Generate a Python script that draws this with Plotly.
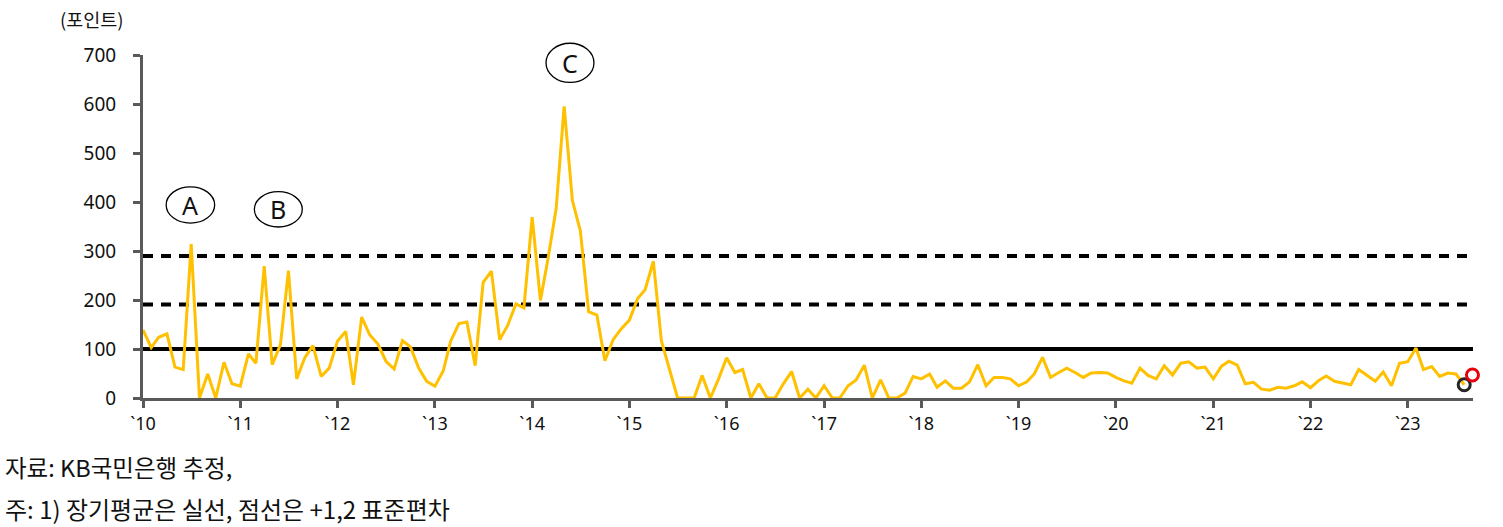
import pandas as pd
import plotly.graph_objects as go

# ---- data (monthly, 2010-01 .. 2023-08) ----
values = [
    139, 103, 124, 131, 63, 58, 314, 0, 49, 0, 73, 29,        # 2010
    24, 90, 71, 269, 68, 109, 260, 39, 83, 107, 44, 61,       # 2011
    116, 136, 27, 165, 129, 110, 75, 59, 117, 104, 61, 34,    # 2012
    24, 55, 116, 152, 155, 66, 236, 259, 119, 148, 192, 184,  # 2013
    369, 199, 283, 386, 595, 403, 341, 176, 169, 76, 119, 141,# 2014
    159, 203, 221, 279, 117, 55, 0, 0, 0, 46, 0, 38,          # 2015
    82, 52, 58, 0, 29, 0, 0, 29, 54, 0, 18, 0,                # 2016
    25, 0, 0, 25, 37, 67, 0, 37, 0, 0, 10, 44,                # 2017
    39, 49, 22, 35, 20, 20, 33, 68, 25, 42, 42, 39,           # 2018
    25, 33, 49, 83, 42, 52, 61, 52, 42, 51, 52, 51,           # 2019
    42, 35, 30, 61, 46, 39, 66, 47, 71, 74, 61, 63,           # 2020
    39, 65, 75, 67, 29, 32, 18, 16, 22, 20, 25, 33,           # 2021
    21, 36, 45, 34, 30, 27, 58, 46, 34, 53, 25, 71,           # 2022
    74, 102, 58, 64, 44, 51, 49, 27,                          # 2023
]
start_month = "2010-01-01"
estimate_month = "2023-09-01"
estimate_value = 47

long_term_mean = 100
plus_1sd = 191
plus_2sd = 290

tick_years = list(range(2010, 2024))
tick_labels = ["`%02d" % (y % 100) for y in tick_years]
y_ticks = [0, 100, 200, 300, 400, 500, 600, 700]
y_max = 700

dates = pd.date_range(start_month, periods=len(values), freq="MS")
x_start = dates[0]
x_end = pd.Timestamp("2023-09-03")

GOLD = "#FFC000"
AXIS = "#595959"
FONT = "Noto Sans CJK KR"
LATIN = "Noto Sans, Noto Sans CJK KR"

fig = go.Figure()

# reference lines
fig.add_trace(go.Scatter(x=[x_start, x_end], y=[long_term_mean] * 2, mode="lines",
                         line=dict(color="black", width=4), hoverinfo="skip"))
for lvl in (plus_1sd, plus_2sd):
    fig.add_trace(go.Scatter(x=[x_start, x_end], y=[lvl] * 2, mode="lines",
                             line=dict(color="black", width=4, dash="10px,8px"),
                             hoverinfo="skip"))

# main series
fig.add_trace(go.Scatter(x=dates, y=values, mode="lines",
                         line=dict(color=GOLD, width=3)))

# last point marker and estimate marker
fig.add_trace(go.Scatter(x=[dates[-1]], y=[values[-1]], mode="markers",
                         marker=dict(symbol="circle-open", size=12, color="#262626",
                                     line=dict(color="#262626", width=3)),
                         cliponaxis=False))
fig.add_trace(go.Scatter(x=[pd.Timestamp(estimate_month)], y=[estimate_value], mode="markers",
                         marker=dict(symbol="circle-open", size=12, color="#E8000B",
                                     line=dict(color="#E8000B", width=3)),
                         cliponaxis=False))

# circled labels A, B, C  (x in dates, y in axis units -> paper)
day = pd.Timedelta(days=1)
circles = [
    ("A", dates[6] - 3 * day, 91, 394, 37),
    ("B", dates[17] - 8 * day, 90, 385, 36),
    ("C", dates[53] - 9 * day, 90, 684, 40),
]
for txt, cx, hw, cy, hh in circles:
    fig.add_shape(type="circle", xref="x", yref="paper",
                  x0=cx - hw * day, x1=cx + hw * day,
                  y0=(cy - hh) / y_max, y1=(cy + hh) / y_max,
                  line=dict(color="black", width=1.3), layer="above")
    fig.add_annotation(x=cx, y=cy / y_max, xref="x", yref="paper", text=txt, showarrow=False,
                       xanchor="center", yanchor="middle",
                       font=dict(family=LATIN, size=25, color="#111"))

# unit label
fig.add_annotation(xref="paper", yref="paper", x=0, y=1, xanchor="right", yanchor="bottom",
                   xshift=-17, yshift=21, text="(포인트)", showarrow=False,
                   font=dict(family=FONT, size=18.5, color="#111"))
# notes
fig.add_annotation(xref="paper", yref="paper", x=0, y=0, xanchor="left", yanchor="middle",
                   xshift=-140, yshift=-69, text="자료: KB국민은행 추정,", showarrow=False,
                   font=dict(family=FONT, size=23.5, color="#111"))
fig.add_annotation(xref="paper", yref="paper", x=0, y=0, xanchor="left", yanchor="middle",
                   xshift=-140, yshift=-110, text="주: 1) 장기평균은 실선, 점선은 +1,2 표준편차",
                   showarrow=False, font=dict(family=FONT, size=24, color="#111"))

fig.update_layout(
    width=1503, height=527,
    margin=dict(l=143, r=30, t=55, b=129),
    paper_bgcolor="white", plot_bgcolor="white",
    showlegend=False,
    font=dict(family=FONT, size=17, color="#111"),
    xaxis=dict(
        type="date", range=[x_start, x_end],
        tickvals=[pd.Timestamp(f"{y}-01-01") for y in tick_years],
        ticktext=tick_labels,
        showgrid=False, zeroline=False,
        showline=True, linecolor=AXIS, linewidth=3,
        ticks="outside", ticklen=7, tickwidth=3, tickcolor=AXIS,
        tickfont=dict(family=LATIN, size=18, color="#111"),
    ),
    yaxis=dict(
        range=[0, y_max], tickvals=y_ticks,
        showgrid=False, zeroline=False,
        showline=True, linecolor=AXIS, linewidth=3,
        ticks="outside", ticklen=7, tickwidth=3, tickcolor=AXIS,
        ticklabelstandoff=13,
        tickfont=dict(family=LATIN, size=19, color="#111"),
    ),
)

# remove the page's default 8px body margin so the figure fills the window exactly
fig.write_html("out.html",
               config={"displayModeBar": False},
               post_script="document.body.style.margin='0';document.body.style.overflow='hidden';")
